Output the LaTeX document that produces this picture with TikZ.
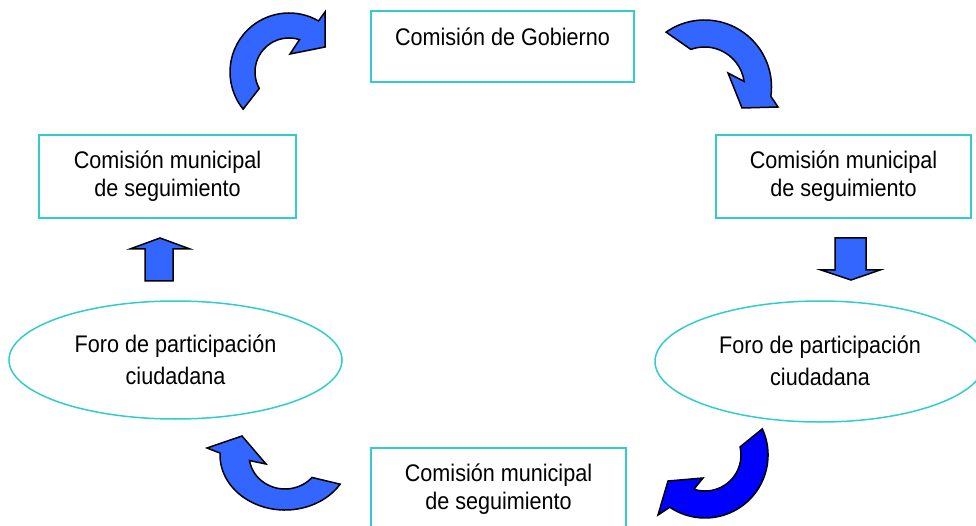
\documentclass[tikz,border=0pt]{standalone}
\usepackage{fontspec}
\setmainfont{Liberation Sans}[FakeStretch=0.9]
\usetikzlibrary{shapes.geometric}
\definecolor{turq}{RGB}{51,204,204}
\definecolor{arrblue}{RGB}{51,102,255}
\definecolor{darkblue}{RGB}{0,0,255}
\begin{document}
\begin{tikzpicture}[x=1pt,y=1pt,
  box/.style={draw=turq, line width=2pt, rectangle, inner sep=0pt, align=center,
    font=\fontsize{24}{28}\selectfont},
  topbox/.style={draw=turq, line width=2pt, rectangle, inner sep=0pt,
    font=\fontsize{24}{28}\selectfont},
  foro/.style={draw=turq, line width=1.5pt, ellipse, inner sep=0pt, align=center,
    font=\fontsize{24}{32}\selectfont},
  bigarrow/.style={draw=black, line width=1.5pt, fill=arrblue, line join=miter}]
\useasboundingbox (0,0) rectangle (976,-526);
\clip (0,0) rectangle (976,-526);

% boxes
\node[topbox, minimum width=263pt, text height=35pt, text depth=36pt] (gob) at (502.5,-46.5) {Comisión de Gobierno};
\node[box, minimum width=257pt, minimum height=83pt] (izq) at (167.5,-176.5) {Comisión municipal\\de seguimiento};
\node[box, minimum width=255pt, minimum height=83pt] (der) at (843.5,-176.5) {Comisión municipal\\de seguimiento};
\node[box, minimum width=255pt, minimum height=83pt] (inf) at (498.5,-489.5) {Comisión municipal\\de seguimiento};

% ellipses
\node[foro, minimum width=333pt, minimum height=118pt] (foroizq) at (175.5,-360) {Foro de participación\\ciudadana\rule[-1pt]{0pt}{1pt}};
\node[foro, minimum width=330pt, minimum height=121pt] (foroder) at (820,-361.5) {Foro de participación\\ciudadana\rule[-1pt]{0pt}{1pt}};

% curved arrows
\begin{scope}[shift={(289,-72)}]
\filldraw[bigarrow] (219:59pt) arc[start angle=219, end angle=60, radius=59pt]
  -- (36,60) -- (36,25) -- (1,18) -- (72:34pt)
  arc[start angle=72, end angle=209, radius=34pt] -- cycle;
\end{scope}
\begin{scope}[shift={(704.5,-87)}]
\filldraw[bigarrow] (125:67pt) arc[start angle=125, end angle=-8, radius=67pt]
  -- (73.5,-20) -- (37.5,-21) -- (23.5,14) -- (8:40pt)
  arc[start angle=8, end angle=110, radius=40pt] -- cycle;
\end{scope}
\begin{scope}[shift={(705,-455)}]
\filldraw[bigarrow, fill=darkblue] (24.5:63pt) arc[start angle=24.5, end angle=-124, radius=63pt]
  -- (-47,-60) -- (-37,-26) -- (-2,-23) -- (-108:36pt)
  arc[start angle=-108, end angle=13, radius=36pt] -- cycle;
\end{scope}
\begin{scope}[shift={(285,-455)}]
\filldraw[bigarrow] (-32:65pt and 55pt) arc[start angle=-32, end angle=-182, x radius=65pt, y radius=55pt]
  -- (-78,7) -- (-43,19) -- (-19,-9) -- (-170.6:36pt and 34pt)
  arc[start angle=-170.6, end angle=-41.4, x radius=36pt, y radius=34pt] -- cycle;
\end{scope}

% straight block arrows
\filldraw[bigarrow] (145,-281) -- (145,-249) -- (130,-249) -- (160,-238) -- (190,-249) -- (173,-249) -- (173,-281) -- cycle;
\filldraw[bigarrow] (835,-238) -- (835,-270) -- (821,-270) -- (851,-280) -- (880,-270) -- (866,-270) -- (866,-238) -- cycle;
\end{tikzpicture}
\end{document}
